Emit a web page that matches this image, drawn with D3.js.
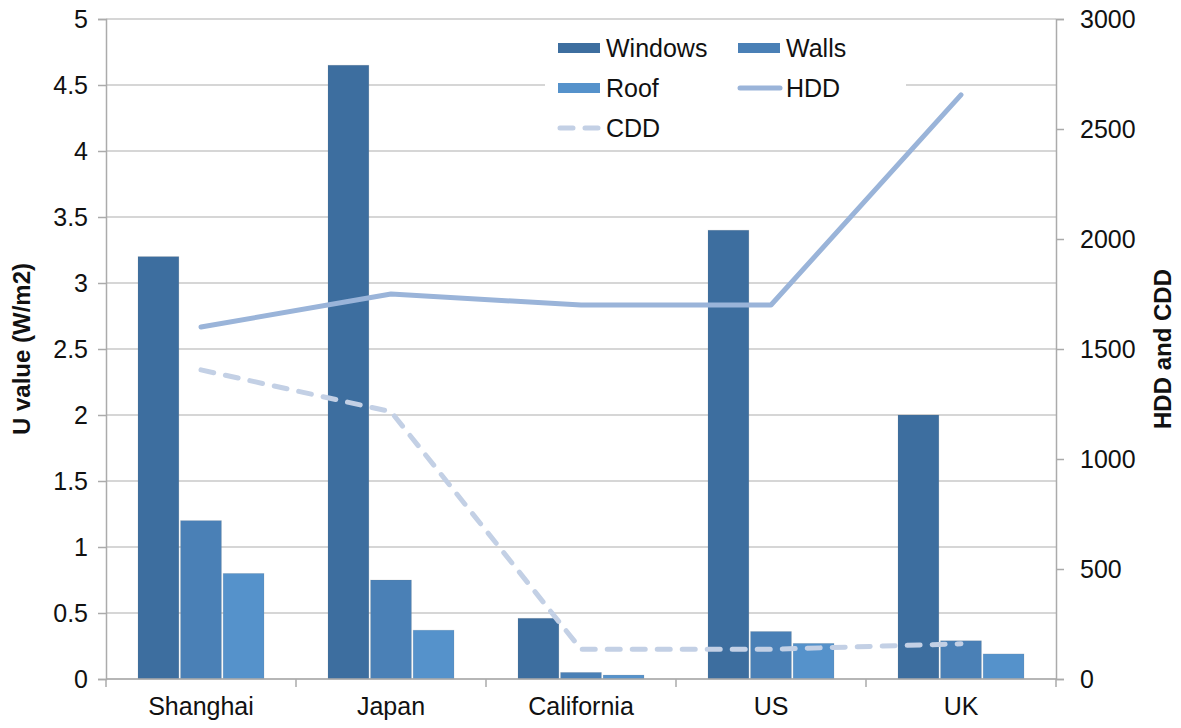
<!DOCTYPE html>
<html>
<head>
<meta charset="utf-8">
<script src="https://cdn.jsdelivr.net/npm/d3@7"></script>
<style>
  html, body { margin: 0; padding: 0; background: #fff; }
  svg text { font-family: "Liberation Sans", Arial, Helvetica, sans-serif; fill: #111; }
</style>
</head>
<body>
<svg id="chart" width="1181" height="728"></svg>
<script>
// U values of the building envelope (W/m2) and degree days per region
const regions = ["Shanghai", "Japan", "California", "US", "UK"];
const components = ["Windows", "Walls", "Roof"];
const windows = [3.2, 4.65, 0.46, 3.4, 2.0];
const walls = [1.2, 0.75, 0.05, 0.36, 0.29];
const roof = [0.8, 0.37, 0.03, 0.27, 0.19];
const hdd = [1600, 1750, 1700, 1700, 2655];
const cdd = [1405, 1215, 135, 135, 160];
const leftTicks = [0, 0.5, 1, 1.5, 2, 2.5, 3, 3.5, 4, 4.5, 5];
const rightTicks = [0, 500, 1000, 1500, 2000, 2500, 3000];

const componentValues = { Windows: windows, Walls: walls, Roof: roof };
const colors = { Windows: "#3d6e9f", Walls: "#4a80b6", Roof: "#5592cb", HDD: "#9ab4d9", CDD: "#c3d0e5" };

const svg = d3.select("#chart");
const plotLeft = 106, plotRight = 1056, plotTop = 19, plotBottom = 679;

const x = d3.scaleBand().domain(regions).range([plotLeft, plotRight])
  .paddingInner(0.3368).paddingOuter(0.1684);
const xSub = d3.scaleBand().domain(components).range([0, x.bandwidth()]).paddingInner(0.04);
const yL = d3.scaleLinear().domain([0, 5]).range([plotBottom, plotTop]);
const yR = d3.scaleLinear().domain([0, 3000]).range([plotBottom, plotTop]);

const fontSize = 25;

// horizontal gridlines
svg.append("g").selectAll("line").data(leftTicks).join("line")
  .attr("x1", plotLeft).attr("x2", plotRight)
  .attr("y1", d => yL(d)).attr("y2", d => yL(d))
  .attr("stroke", "#c8c8c8").attr("stroke-width", 1.5);

// legend background hides the gridlines behind it
const lg = svg.append("g");
lg.append("rect").attr("x", 545).attr("y", 26).attr("width", 361).attr("height", 120).attr("fill", "#fff");

// bars
const rows = regions.map((r, i) => ({ region: r, values: components.map(c => ({ c, v: componentValues[c][i] })) }));
svg.append("g").selectAll("g").data(rows).join("g")
  .attr("transform", d => `translate(${x(d.region)},0)`)
  .selectAll("rect").data(d => d.values).join("rect")
  .attr("x", d => xSub(d.c))
  .attr("width", xSub.bandwidth())
  .attr("y", d => yL(d.v))
  .attr("height", d => yL(0) - yL(d.v))
  .attr("fill", d => colors[d.c])
  .attr("stroke", "rgba(120,120,120,0.18)").attr("stroke-width", 0.8);

// degree-day lines on the right axis
const cx = r => x(r) + x.bandwidth() / 2;
const ddLine = d3.line().x((d, i) => cx(regions[i])).y(d => yR(d));
svg.append("path").datum(hdd).attr("d", ddLine)
  .attr("fill", "none").attr("stroke", colors.HDD).attr("stroke-width", 5)
  .attr("stroke-linecap", "round").attr("stroke-linejoin", "round");
svg.append("path").datum(cdd).attr("d", ddLine)
  .attr("fill", "none").attr("stroke", colors.CDD).attr("stroke-width", 5)
  .attr("stroke-linecap", "round").attr("stroke-linejoin", "round")
  .attr("stroke-dasharray", "13,12");

// axes
const axisColor = "#ababab";
const gL = svg.append("g").attr("transform", `translate(${plotLeft},0)`)
  .call(d3.axisLeft(yL).tickValues(leftTicks).tickSize(8).tickPadding(10).tickFormat(d => String(d)));
const gR = svg.append("g").attr("transform", `translate(${plotRight},0)`)
  .call(d3.axisRight(yR).tickValues(rightTicks).tickSize(8).tickPadding(16).tickFormat(d => String(d)));
const gB = svg.append("g").attr("transform", `translate(0,${plotBottom})`)
  .call(d3.axisBottom(x).tickSize(0).tickPadding(16));
[gL, gR, gB].forEach(g => {
  g.select(".domain").attr("stroke", axisColor).attr("stroke-width", 1.5);
  g.selectAll(".tick line").attr("stroke", axisColor).attr("stroke-width", 1.5);
  g.selectAll(".tick text").attr("font-size", fontSize).attr("fill", "#111")
    .attr("font-family", "Liberation Sans, Arial, sans-serif");
});
gB.select(".domain").attr("d", `M${plotLeft},0H${plotRight}`);
gB.selectAll(".tick text").attr("dy", "0.71em").attr("y", 18);
// category boundary ticks
const bounds = regions.map(r => x(r) - x.step() * x.paddingInner() / 2).concat([plotRight]);
gB.append("g").selectAll("line").data(bounds).join("line")
  .attr("x1", d => d).attr("x2", d => d).attr("y1", 0).attr("y2", 8)
  .attr("stroke", axisColor).attr("stroke-width", 1.5);

// axis titles
svg.append("text").attr("transform", `translate(30,${(plotTop + plotBottom) / 2}) rotate(-90)`)
  .attr("text-anchor", "middle").attr("font-size", 24).attr("font-weight", "bold")
  .text("U value (W/m2)");
svg.append("text").attr("transform", `translate(1171,${(plotTop + plotBottom) / 2}) rotate(-90)`)
  .attr("text-anchor", "middle").attr("font-size", 24).attr("font-weight", "bold")
  .text("HDD and CDD");

// legend
const legendItems = [
  { key: "Windows", type: "bar", x: 558, y: 48 },
  { key: "Walls", type: "bar", x: 738, y: 48 },
  { key: "Roof", type: "bar", x: 558, y: 88 },
  { key: "HDD", type: "line", x: 738, y: 88 },
  { key: "CDD", type: "dash", x: 558, y: 128 }
];
const li = lg.selectAll("g.item").data(legendItems).join("g").attr("class", "item")
  .attr("transform", d => `translate(${d.x},${d.y})`);
li.filter(d => d.type === "bar").append("rect")
  .attr("x", 0).attr("y", -5).attr("width", 42).attr("height", 10)
  .attr("fill", d => colors[d.key]);
li.filter(d => d.type === "line").append("line")
  .attr("x1", 2).attr("x2", 42).attr("y1", 0).attr("y2", 0)
  .attr("stroke", d => colors[d.key]).attr("stroke-width", 5).attr("stroke-linecap", "round");
li.filter(d => d.type === "dash").append("line")
  .attr("x1", 2).attr("x2", 42).attr("y1", 0).attr("y2", 0)
  .attr("stroke", d => colors[d.key]).attr("stroke-width", 5).attr("stroke-linecap", "round")
  .attr("stroke-dasharray", "13,12");
li.append("text").attr("x", 48).attr("y", 0).attr("dy", "0.36em")
  .attr("font-size", fontSize).text(d => d.key);
</script>
</body>
</html>
